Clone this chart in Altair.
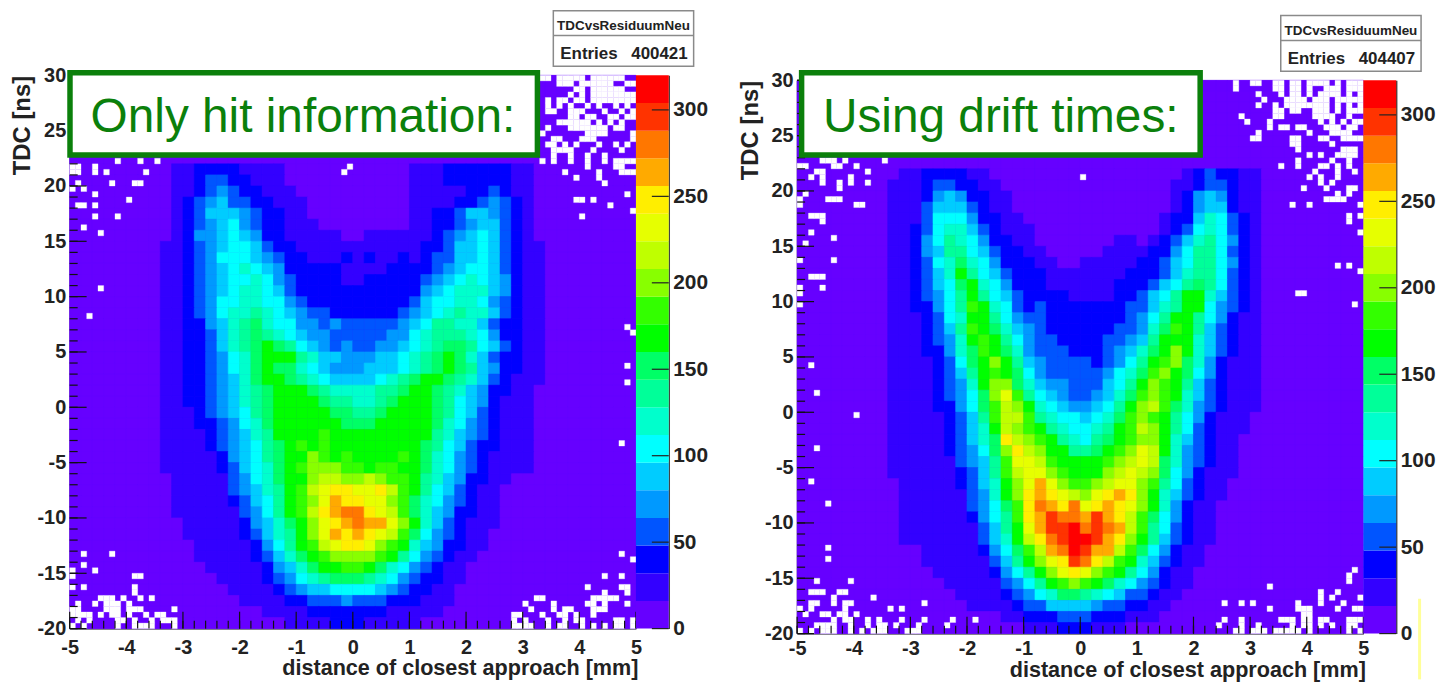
import altair as alt
import pandas as pd

FONT = "Liberation Sans"
GREEN = "#0B800B"
COLORS = ["#6600ff", "#3300ff", "#0000ff", "#0055ff", "#0099ff", "#00ccff", "#00ffff",
          "#00ffcc", "#00ff99", "#00ff66", "#00ff00", "#33ff00", "#88ff00", "#bfff00",
          "#e6ff00", "#ffee00", "#ffaa00", "#ff7700", "#ff3300", "#ff0000"]
THRESHOLDS = [16 * k for k in range(1, 20)]
CODES = "0123456789abcdefghij"

# Colour-level code of each coarse bin (row 0 = 30 ns, column 0 = -5 mm); count = 16*level + 8
ROWS_HIT = [
 "0"*50, "0"*50, "0"*50, "0"*50, "0"*50, "0"*50, "0"*50, "0"*50,
 "0000000001 1222211110 0000000000 1112222221 1000000000",
 "0000000001 1233221110 0000000000 1112222221 1000000000",
 "0000000001 1234322111 0000000000 1111122321 1000000000",
 "0000000001 2345332211 1000000000 1111223432 1000000000",
 "0000000001 2355543221 1000000000 1122355432 1000000000",
 "0000000001 2345643221 1100000000 1122345532 1000000000",
 "0000000001 2445654221 1111001111 1123456532 1000000000",
 "0000000011 2345665322 1111111111 1223556532 1100000000",
 "0000000011 2346665432 2111212112 1233556532 1100000000",
 "0000000011 2345676542 2222111122 2234566532 1100000000",
 "0000000011 2345667643 2222112222 2345676542 1100000000",
 "0000000011 2345677653 2222222222 2456777542 1100000000",
 "0000000011 2346677664 3222222222 3566776432 1100000000",
 "0000000011 2346778765 4332222223 4567877532 1100000000",
 "0000000011 2245789766 4434333334 5688775322 1100000000",
 "0000000011 2235789876 5443333344 6788876422 1100000000",
 "0000000011 2235789a98 6543433445 6789986532 1100000000",
 "0000000011 2234679aaa 8755444556 789a975322 1100000000",
 "0000000011 2234679a99 7654445556 789a985422 1100000000",
 "0000000011 2234579aa9 8765555678 9aa9875321 1100000000",
 "0000000011 223457 89aa a987777889 aa98754221 1000000000",
 "0000000011 223457 89aa aa98877 89a aa98654211 1000000000",
 "0000000011 12345689aa aaa9988 9aa aa98653211 1000000000",
 "0000000011 12234679aa aaaa999aaa aa97643211 1000000000",
 "0000000011 11234578aa aabaaaaaaa aa87543211 1000000000",
 "0000000011 112345689a babaaaaaaa a986532211 1000000000",
 "0000000011 111245689a acbabaaaab a976432111 1000000000",
 "0000000011 111235679a bcccbbabba a976432111 1000000000",
 "0000000001 111134679a acddccdcbb a875422110 0000000000",
 "0000000001 111134578a bdeffeefdb a865321100 0000000000",
 "0000000001 111123568a bcegffeecb 9764321100 0000000000",
 "0000000001 111113468a bdfghhfedb 9754221100 0000000000",
 "0000000000 1111124579 acefghggec a753211100 0000000000",
 "0000000000 1111123578 acegfgfedb 9643211000 0000000000",
 "0000000000 0111112468 abdeffecba 7542211000 0000000000",
 "0000000000 0111112357 9abccccba8 6432110000 0000000000",
 "0000000000 0011111245 79aabba976 4321100000 0000000000",
 "0000000000 0001111234 6789998764 3221100000 0000000000",
 "0000000000 0000111123 4556666543 2211000000 0000000000",
 "0000000000 0000011112 2333433322 2111000000 0000000000",
 "0000000000 0000000111 1222222211 1110000000 0000000000",
 "0000000000 0000000001 1112221111 1000000000 0000000000",
]

ROWS_DRIFT = [
 "0"*50, "0"*50, "0"*50, "0"*50, "0"*50, "0"*50, "0"*50, "0"*50,
 "0000000001 1222211000 0000000000 0000123221 1000000000",
 "0000000011 1233221100 0000000000 0001123321 1000000000",
 "0000000011 1245422110 0000000000 0001245421 1000000000",
 "0000000011 1355532110 0000000000 0001245521 1000000000",
 "0000000011 1366642211 0000000000 0012257632 1000000000",
 "0000000011 2367753211 1000000000 0012367632 1000000000",
 "0000000011 2468764221 1000000011 0123578642 1000000000",
 "0000000011 2458865322 1100000111 1224688632 1000000000",
 "0000000011 2367976422 2110011111 2235688642 1000000000",
 "0000000011 2357a86532 2211111112 2235788632 1000000000",
 "0000000011 23569a7642 2211111122 2356898632 1000000000",
 "0000000011 23468a8653 2222111122 3568aa7532 1000000000",
 "0000000011 22468ba763 2322222223 3578aa6432 1000000000",
 "0000000011 12367aa864 3322222223 468aa86421 1000000000",
 "0000000011 12358ba975 4322222233 479ba85321 1000000000",
 "0000000011 12347aba86 4332222334 58aaa75321 1000000000",
 "0000000011 122479ba97 4333222345 79aca75321 1000000000",
 "0000000011 112369aca8 5433332346 8abc974211 1000000000",
 "0000000011 112358aba9 6433333467 9bca964211 1000000000",
 "0000000011 112347acc9 7544333568 acba853211 1000000000",
 "0000000011 1123469ceb 8654334579 bcba753211 1000000000",
 "0000000011 1122469bdc a76544568a cdb9743211 1000000000",
 "0000000011 1112358bdd b87665679b cba8642111 0000000000",
 "0000000011 1112357adc ba87667 8ab dca8632111 0000000000",
 "0000000011 11123579fd cba8768 9ab cca7532110 0000000000",
 "0000000011 1112346 9cf dcaa889abc eda7432110 0000000000",
 "0000000011 1111345 8be edbaaaabcd ed97432110 0000000000",
 "0000000011 1111235 8bd eecbaaacde dc96421110 0000000000",
 "0000000001 1111235 7ac egecbbcdee cb86321100 0000000000",
 "0000000001 111113 47ac fgfedcefgf ca75321100 0000000000",
 "0000000001 1111134 69b fhgfhefgfe ca74211000 0000000000",
 "0000000001 1111124 68b fgihhgigfd b964211000 0000000000",
 "0000000001 1111113 58a egiijhihgd b863211000 0000000000",
 "0000000001 1111113 57a dfhijjigfc a853211000 0000000000",
 "0000000000 0111112 469 bdghjiggdb 9642110000 0000000000",
 "0000000000 0111111 358 acefihfdba 7532110000 0000000000",
 "0000000000 0011111 246 8acefecba8 6421100000 0000000000",
 "0000000000 0001111 134 68abcba976 4321100000 0000000000",
 "0000000000 0000111 123 4679987653 3211000000 0000000000",
 "0000000000 0000011 112 3355554332 2110000000 0000000000",
 "0000000000 0000000 011 2223332221 1100000000 0000000000",
 "0000000000 0000000000 1112221110 0000000000 0000000000",
]

# Empty (white) fine bins: {row from top: [columns]} on the 100 x 100 histogram grid
EMPTY_HIT = {
 0: [83,84,86,87,88,89,90,92,93,94,95,96,97], 1: [86,87,88,90,91,92,93,94,95,98,99],
 2: [89,90,92,93,94,95,96,97], 3: [88,90,92,93,94,95,96,97,98,99],
 4: [84,86,87,89,90,92,93,94,95,96,97,98,99], 5: [84,86,88,91,93,96,98],
 6: [84,85,88,89,90,94,97,99], 7: [88,89,91,92,95,96,98,99], 8: [86,87,88,89,90,91,93,95,97],
 9: [84,88,89,90,91,92,93,94,96,97], 10: [83,91,92,93,94,99], 11: [85,86,90,91,92,99],
 12: [84,85,87,89,93,96,98], 13: [85,86,87,88,92,97],
 14: [85,88,91,94], 15: [8,12,15,83,85,88,91,94,96,97,98,99], 16: [0,1,4,49,91,96,97],
 17: [0,1,4,6,13,48,87,93,97,98,99], 18: [89,93], 19: [1,7,11,12,94],
 20: [0,2], 21: [4,98], 22: [10,89,90,92], 23: [1,2,4,95], 24: [99], 25: [4,8,90], 27: [2],
 28: [5], 38: [5], 43: [3], 45: [98], 46: [99], 52: [98], 55: [98], 66: [97],
 86: [2,7,97], 87: [99], 88: [2], 89: [0,4], 90: [0,11,12,94,97], 92: [0,2,11,91,97,98],
 93: [11,94,98], 94: [5,6,7,9,12,14,82,83,92,93,94,95,96], 95: [1,4,6,7,8,10,80,85,91,92,94,98],
 96: [0,1,6,7,8,10,11,12,18,81,85,87,88,92,93,94], 97: [0,1,2,3,5,7,8,10,13,15,16,78,79,83,86,87,89,92],
 98: [1,3,8,9,11,14,16,17,18,78,80,84,87,89,90,96,97,99],
 99: [0,2,8,11,12,13,14,18,78,79,80,81,84,86,87,90,92,94,96,97,99],
}
EMPTY_DRIFT = {
 0: [77,80,81,84,85,87,88,90,91,92,93,95,97,98,99], 1: [77,84,85,87,88,90,93,94,95,97,98,99],
 2: [81,85,87,88,90,92,93,94,95,97,99], 3: [82,86,87,88,89,91,92,93,95,96,97,98,99],
 4: [81,84,86,87,88,89,90,91,92,93,95,97,99], 5: [84,85,87,88,91,92,93,95,97,98,99],
 6: [78,84,85,91,92,93,94,97], 7: [79,83,92,94,96,98,99], 8: [83,85,86,88,89,93,94,95,97,98],
 9: [81,90,94,95,96,97], 10: [80,81,87,88,92,93,96,97,98,99], 11: [87,88,94],
 12: [88,96,97,98], 13: [90,92,95,96,97,98], 14: [4,5,6,8,15,88,94,97], 15: [0,1,6,7,10,85,88,92,93,95,97],
 16: [3,4,12,91,95,98], 17: [2,4,9,50,90,92,95], 18: [4,7,9,12,92,94], 19: [7,89,93,97,98],
 20: [1,95,97], 21: [0,5,6,7,93,94,95,96], 22: [0,10,11,87,90,99], 24: [2,3,4,97,99], 25: [4,97],
 27: [2,99], 28: [6], 29: [1], 32: [0,6], 33: [95,97], 34: [99], 35: [2,3,4], 37: [0,4], 38: [0,88,89],
 40: [0,98], 51: [2], 56: [3], 60: [10], 66: [3], 72: [2], 76: [5], 84: [5], 86: [5],
 88: [98], 89: [97], 90: [3,9,97], 91: [83], 92: [2,3,4,7,8,92,95], 93: [6,13,92,94,99],
 94: [2,3,6,8,9,22,75,78,80,88,92,96], 95: [0,2,8,16,18,83,88,89,90,95,98,99], 96: [1,4,5,7,8,10,89,90],
 97: [6,8,9,12,14,18,22,27,31,75,78,85,86,87,89,90,92,93,97,98,99],
 98: [3,4,5,6,9,12,14,15,17,21,26,74,78,81,87,89,90,92,94,97,98],
 99: [0,2,4,5,6,9,11,13,14,15,19,20,21,77,78,80,81,82,84,85,86,87,88,90,97,99],
}

X_MAJOR = [-5, -4, -3, -2, -1, 0, 1, 2, 3, 4, 5]
Y_MAJOR = [-20, -15, -10, -5, 0, 5, 10, 15, 20, 25, 30]
X_MINOR = [v / 5 for v in range(-25, 26)]
Y_MINOR = list(range(-20, 31))
Z_TICKS = [0, 50, 100, 150, 200, 250, 300]

W, H, CBW = 569, 556, 33

x_scale = alt.Scale(domain=[-5, 5], nice=False, zero=False)
y_scale = alt.Scale(domain=[-20, 30], nice=False, zero=False)
color_scale = alt.Scale(type="threshold", domain=THRESHOLDS, range=COLORS)
y_axis = alt.Axis(values=Y_MAJOR, title="TDC [ns]", titleFont=FONT, titleFontSize=24,
                  titleFontWeight="bold", titleColor="#222", titleAnchor="end", titleX=-35,
                  labelFont=FONT, labelFontSize=20, labelFontWeight="bold", labelColor="#222",
                  labelExpr="'' + datum.value", labelPadding=4, labelFlush=False, labelOverlap=False,
                  ticks=False, grid=False, domainColor="#888888", domainWidth=2)
Y = lambda f: alt.Y(f, type="quantitative", scale=y_scale, axis=y_axis)


def cells(rows):
    recs = []
    for r, row in enumerate(rows):
        row = row.replace(" ", "").ljust(50, "0")[:50]
        for c, ch in enumerate(row):
            recs.append({"x": -5 + 0.2 * c, "x2": -5 + 0.2 * (c + 1), "y": 30 - r, "y2": 29 - r,
                         "n": 16 * CODES.index(ch) + 8})
    return pd.DataFrame(recs)


def empties(d):
    recs = []
    for j, cols in d.items():
        for i in cols:
            recs.append({"x": -5 + 0.1 * i, "x2": -5 + 0.1 * (i + 1), "y": 30 - 0.5 * j, "y2": 29.5 - 0.5 * j})
    return pd.DataFrame(recs)


def heat(rows, empty, label, box, text_x, baseline, title_y, label_pad):
    x_axis = alt.Axis(values=X_MAJOR, title="distance of closest approach [mm]", titleFont=FONT,
                      titleFontSize=21.7, titleFontWeight="bold", titleColor="#222", titleAnchor="end",
                      titleY=title_y, titleX=571, labelFont=FONT, labelFontSize=20, labelFontWeight="bold",
                      labelColor="#222", labelExpr="'' + datum.value", labelPadding=label_pad, labelFlush=False,
                      labelOverlap=False, ticks=False, grid=False, domainColor="#888888", domainWidth=2)
    X = lambda f: alt.X(f, type="quantitative", scale=x_scale, axis=x_axis)
    under = alt.Chart(pd.DataFrame({"x": [-5], "x2": [5], "y": [30], "y2": [-20]})).mark_rect(
        fill=COLORS[0]).encode(x=X("x"), x2="x2", y=Y("y"), y2="y2")
    base = alt.Chart(cells(rows)).mark_rect(strokeWidth=0.6).encode(
        x=X("x"), x2="x2", y=Y("y"), y2="y2",
        fill=alt.Fill("n:Q", scale=color_scale, legend=None),
        stroke=alt.Stroke("n:Q", scale=color_scale, legend=None))
    white = alt.Chart(empties(empty)).mark_rect(fill="white", stroke="white", strokeWidth=0.3).encode(
        x=X("x"), x2="x2", y=Y("y"), y2="y2")
    txm = alt.Chart(pd.DataFrame({"v": X_MAJOR})).mark_rule(color="#111", strokeWidth=1.2).encode(
        x=X("v"), y=alt.value(H - 17), y2=alt.value(H))
    txn = alt.Chart(pd.DataFrame({"v": X_MINOR})).mark_rule(color="#111", strokeWidth=1.2).encode(
        x=X("v"), y=alt.value(H - 8), y2=alt.value(H))
    tym = alt.Chart(pd.DataFrame({"v": Y_MAJOR})).mark_rule(color="#111", strokeWidth=1.2).encode(
        y=Y("v"), x=alt.value(0), x2=alt.value(17))
    tyn = alt.Chart(pd.DataFrame({"v": Y_MINOR})).mark_rule(color="#111", strokeWidth=1.2).encode(
        y=Y("v"), x=alt.value(0), x2=alt.value(8))
    lab = pd.DataFrame({"t": [label]})
    rect = alt.Chart(lab).mark_rect(fill="white", stroke=GREEN, strokeWidth=5.5).encode(
        x=alt.value(box[0]), x2=alt.value(box[1]), y=alt.value(box[2]), y2=alt.value(box[3]))
    txt = alt.Chart(lab).mark_text(font=FONT, fontSize=48, color=GREEN, align="left",
                                   baseline="alphabetic").encode(
        x=alt.value(text_x), y=alt.value(baseline), text="t:N")
    return alt.layer(under, base, white, txn, txm, tyn, tym, rect, txt).properties(width=W, height=H)


def colorbar(extra=None):
    lev = pd.DataFrame({"lo": [16 * k for k in range(20)], "hi": [16 * (k + 1) for k in range(20)],
                        "n": [16 * k + 8 for k in range(20)]})
    zs = alt.Scale(domain=[0, 320], nice=False, zero=False)
    za = alt.Axis(orient="right", values=Z_TICKS, title=None, labelFont=FONT, labelFontSize=21,
                  labelFontWeight="bold", labelColor="#222", labelPadding=4, ticks=False, grid=False,
                  domainColor="#444444", domainWidth=1.5, labelOverlap=False, labelFlush=False)
    bar = alt.Chart(lev).mark_rect().encode(
        x=alt.value(0), x2=alt.value(CBW), y=alt.Y("lo:Q", scale=zs, axis=za), y2="hi:Q",
        fill=alt.Fill("n:Q", scale=color_scale, legend=None))
    ticks = alt.Chart(pd.DataFrame({"v": Z_TICKS})).mark_rule(color="#222", strokeWidth=1.2).encode(
        y=alt.Y("v:Q", scale=zs, axis=za), x=alt.value(CBW - 17), x2=alt.value(CBW))
    parts = [bar, ticks]
    if extra is not None:
        parts.append(extra)
    return alt.layer(*parts).properties(width=CBW, height=H)


def stats(name, entries, top, height):
    d = pd.DataFrame({"name": [name], "label": ["Entries"], "val": [entries]})
    c = alt.Chart(d)
    L, R = 486, 627
    box = c.mark_rect(fill="white", stroke="#8a8a8a", strokeWidth=1.5).encode(
        x=alt.value(L), x2=alt.value(R), y=alt.value(top), y2=alt.value(top + 56))
    div = c.mark_rule(color="#8a8a8a", strokeWidth=1.5).encode(
        x=alt.value(L), x2=alt.value(R), y=alt.value(top + 25))
    t1 = c.mark_text(font=FONT, fontSize=13.5, fontWeight="bold", color="#222", align="center",
                     baseline="alphabetic").encode(x=alt.value((L + R) / 2), y=alt.value(top + 19), text="name:N")
    t2 = c.mark_text(font=FONT, fontSize=17, fontWeight="bold", color="#222", align="left",
                     baseline="alphabetic").encode(x=alt.value(L + 7), y=alt.value(top + 49), text="label:N")
    t3 = c.mark_text(font=FONT, fontSize=17, fontWeight="bold", color="#222", align="right",
                     baseline="alphabetic").encode(x=alt.value(R - 6), y=alt.value(top + 49), text="val:N")
    return alt.layer(box, div, t1, t2, t3).properties(width=W + CBW, height=height)


note = alt.Chart(pd.DataFrame({"k": ["note"]})).mark_rect(fill="#FFFF99").encode(
    x=alt.value(55), x2=alt.value(58), y=alt.value(521), y2=alt.value(602))

left = alt.vconcat(
    stats("TDCvsResiduumNeu", "400421", 0, 65),
    alt.hconcat(heat(ROWS_HIT, EMPTY_HIT, "Only hit information:", (0.3, 470, -2.6, 80), 21, 57, 29, 9),
                colorbar(), spacing=0, bounds="flush"),
    spacing=0, bounds="flush")
right = alt.vconcat(
    stats("TDCvsResiduumNeu", "404407", 5, 70),
    alt.hconcat(heat(ROWS_DRIFT, EMPTY_DRIFT, "Using drift times:", (4.5, 405, -7.6, 75), 26, 52, 26, 5),
                colorbar(note), spacing=0, bounds="flush"),
    spacing=0, bounds="flush")

chart = alt.hconcat(left, right, spacing=731, bounds="flush").properties(
    padding={"left": 2, "top": 0, "right": 0, "bottom": 0}, background="white"
).configure_view(stroke=None)

chart.save("out.html", embed_options={"renderer": "svg", "actions": False})
